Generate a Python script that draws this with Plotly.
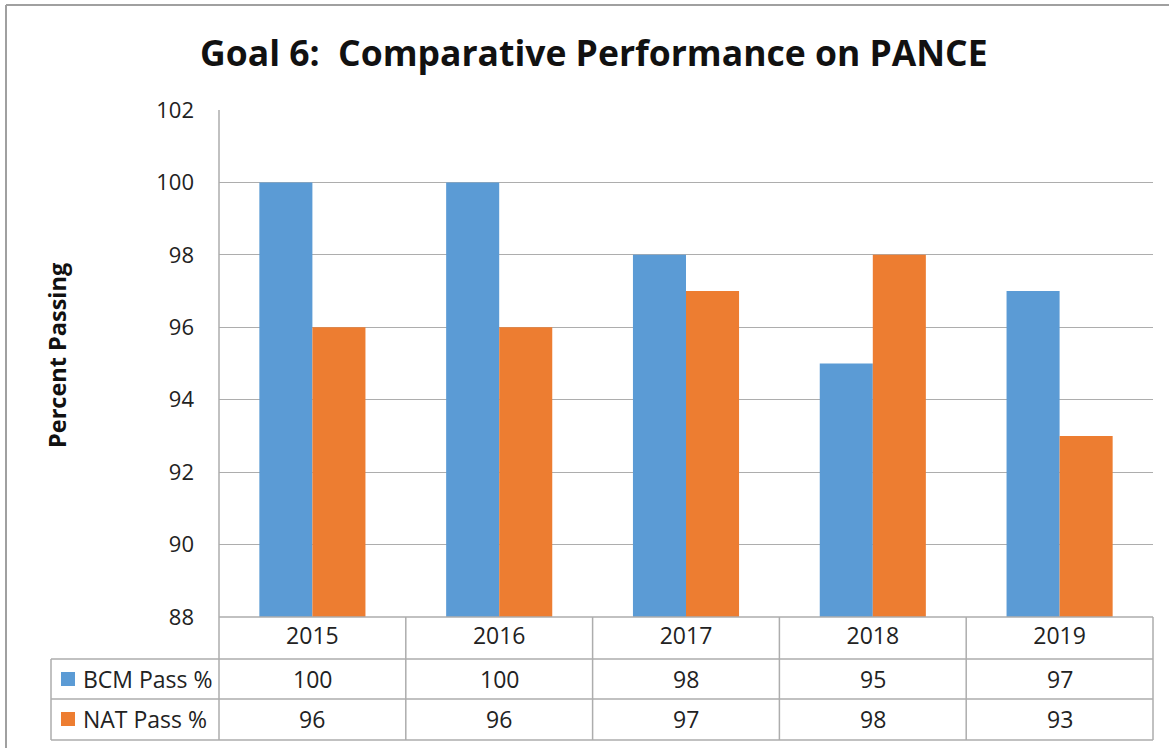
import plotly.graph_objects as go

years = ["2015", "2016", "2017", "2018", "2019"]
bcm_pass = [100, 100, 98, 95, 97]
nat_pass = [96, 96, 97, 98, 93]
series_names = ["BCM Pass %", "NAT Pass %"]
colors = ["#5B9BD5", "#ED7D31"]

W, H = 1169, 748
L, R, T, B = 219, 1153, 110, 617  # plot area in pixels
pw, ph = R - L, B - T

def px_x(px):
    return (px - L) / pw

def px_y(py):
    return (B - py) / ph

FONT = "Open Sans, Lato, sans-serif"
GRID = "#ADADAD"

fig = go.Figure()
for name, vals, col in zip(series_names, [bcm_pass, nat_pass], colors):
    fig.add_trace(go.Bar(x=years, y=vals, name=name, marker=dict(color=col, line=dict(width=0)),
                         showlegend=False))

fig.update_layout(
    width=W, height=H,
    margin=dict(l=L, r=W - R, t=T, b=H - B, autoexpand=False),
    paper_bgcolor="white", plot_bgcolor="white",
    barmode="group", bargap=0.432, bargroupgap=0,
    font=dict(family=FONT, size=20, color="#222222"),
    xaxis=dict(type="category", range=[-0.5, len(years) - 0.5], showgrid=False, showline=False,
               ticks="", zeroline=False, tickfont=dict(size=23, color="#222222"),
               ticklabelstandoff=3),
    yaxis=dict(range=[88, 102], dtick=2, showgrid=True, gridcolor=GRID, gridwidth=1,
               showline=False, zeroline=False, ticks="", ticklabelstandoff=24,
               tickfont=dict(size=22, color="#222222")),
)

shapes = []
line = dict(color=GRID, width=1.5)
# table horizontals
shapes.append(dict(type="line", xref="paper", yref="paper", x0=0, x1=1, y0=0, y1=0, line=line))
for py in [659, 699, 740]:
    shapes.append(dict(type="line", xref="paper", yref="paper", x0=px_x(51), x1=1,
                       y0=px_y(py), y1=px_y(py), line=line))
shapes.append(dict(type="line", xref="paper", yref="paper", x0=px_x(51), x1=px_x(51),
                   y0=px_y(659), y1=px_y(740), line=line))
# category column boundaries
n = len(years)
for i in range(n + 1):
    xp = i / n
    shapes.append(dict(type="line", xref="paper", yref="paper", x0=xp, x1=xp,
                       y0=1 if i == 0 else 0, y1=px_y(740), line=line))
# outer chart border (top and left)
border = dict(color="#A0A0A0", width=2)
shapes.append(dict(type="line", xref="paper", yref="paper", x0=px_x(6), x1=px_x(W + 5),
                   y0=px_y(5), y1=px_y(5), line=border))
shapes.append(dict(type="line", xref="paper", yref="paper", x0=px_x(6), x1=px_x(6),
                   y0=px_y(5), y1=px_y(H + 5), line=border))
# legend keys
for col, py in zip(colors, [679, 719]):
    shapes.append(dict(type="rect", xref="paper", yref="paper", x0=px_x(61), x1=px_x(75),
                       y0=px_y(py - 7), y1=px_y(py + 7), fillcolor=col, line=dict(width=0)))
fig.update_layout(shapes=shapes)

ann = []
ann.append(dict(text="<b>Goal 6:  Comparative Performance on PANCE</b>", xref="paper", yref="paper",
                x=px_x(594), y=px_y(52), xanchor="center", yanchor="middle", showarrow=False,
                font=dict(family=FONT, size=35.5, color="#111111")))
ann.append(dict(text="<b>Percent Passing</b>", xref="paper", yref="paper", textangle=-90,
                x=px_x(57), y=px_y(356), xanchor="center", yanchor="middle", showarrow=False,
                font=dict(family=FONT, size=23.5, color="#111111")))
for name, vals, py in zip(series_names, [bcm_pass, nat_pass], [679, 719]):
    ann.append(dict(text=name, xref="paper", yref="paper", x=px_x(81), y=px_y(py),
                    xanchor="left", yanchor="middle", showarrow=False,
                    font=dict(family=FONT, size=23, color="#222222")))
    for i, v in enumerate(vals):
        ann.append(dict(text=str(v), xref="paper", yref="paper", x=(i + 0.5) / n, y=px_y(py),
                        xanchor="center", yanchor="middle", showarrow=False,
                        font=dict(family=FONT, size=23, color="#222222")))
fig.update_layout(annotations=ann)

fig.write_html("out.html", config={"displayModeBar": False},
               post_script="document.body.style.margin='0';document.body.style.overflow='hidden';")
